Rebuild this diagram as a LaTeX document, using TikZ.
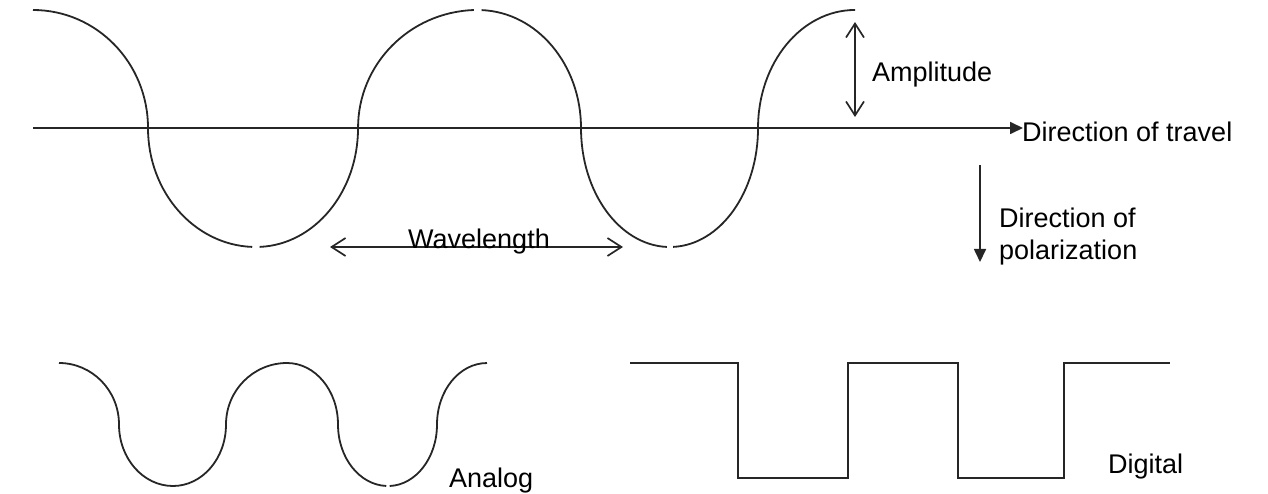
\documentclass[tikz,border=0pt]{standalone}
\usepackage{fontspec}
\setmainfont{Liberation Sans}
\usetikzlibrary{arrows.meta}
\begin{document}
\begin{tikzpicture}[x=1pt,y=-1pt,
  wave/.style={line width=1.8pt,color=black!85},
  lbl/.style={inner sep=0pt,font=\fontsize{27}{32}\selectfont},
  dbl/.style={line width=1.7pt,color=black!85,{Straight Barb[length=14pt,width=18pt]}-{Straight Barb[length=14pt,width=18pt]}},
  sol/.style={line width=1.7pt,color=black!85,-{Triangle[length=13pt,width=12pt]}}]
\useasboundingbox (0,0) rectangle (1268,494);
% big wave
\draw[wave] (33,10) arc[start angle=-90,end angle=0,x radius=115,y radius=118]
  arc[start angle=180,end angle=92,x radius=108,y radius=119];
\draw[wave] (259.6,246.9) arc[start angle=88,end angle=0,x radius=102,y radius=119]
  arc[start angle=180,end angle=268,x radius=120,y radius=118];
\draw[wave] (481.6,10.1) arc[start angle=272,end angle=360,x radius=103,y radius=118]
  arc[start angle=180,end angle=92,x radius=89,y radius=119];
\draw[wave] (673.1,246.9) arc[start angle=88,end angle=0,x radius=88,y radius=119]
  arc[start angle=180,end angle=270,x radius=97,y radius=118];
% axis
\coordinate (ax0) at (33,128);
\coordinate (ax1) at (1023,128);
\draw[sol] (ax0) -- (ax1);
\node[lbl,anchor=base west] (travel) at (1022,142) {Direction of travel};
% amplitude
\coordinate (am0) at (855,22);
\coordinate (am1) at (855,117);
\draw[dbl] (am0) -- (am1);
\node[lbl,anchor=base west] (ampl) at (872,82) {Amplitude};
% wavelength
\coordinate (wl0) at (330,247);
\coordinate (wl1) at (623,247);
\draw[dbl] (wl0) -- (wl1);
\node[lbl,anchor=base] (wavel) at (479,248) {Wavelength};
% polarization
\coordinate (po0) at (980,165);
\coordinate (po1) at (980,262);
\draw[sol] (po0) -- (po1);
\node[lbl,anchor=base west] (pol1) at (999,228) {Direction of};
\node[lbl,anchor=base west] (pol2) at (999,260) {polarization};
% analog
\draw[wave] (59,363) arc[start angle=-90,end angle=0,x radius=60,y radius=61.5]
  arc[start angle=180,end angle=90,x radius=54,y radius=61.5]
  arc[start angle=90,end angle=0,x radius=53,y radius=61.5]
  arc[start angle=180,end angle=270,x radius=61,y radius=61.5]
  arc[start angle=270,end angle=360,x radius=51,y radius=61.5]
  arc[start angle=180,end angle=92,x radius=50,y radius=61.5];
\draw[wave] (389.7,486) arc[start angle=88,end angle=0,x radius=49,y radius=61.5]
  arc[start angle=180,end angle=270,x radius=50,y radius=61.5];
\node[lbl,anchor=base west] (analog) at (449,487) {Analog};
% digital
\draw[wave] (630,363) -- (738,363) -- (738,478) -- (848,478) -- (848,363) -- (958,363)
  -- (958,478) -- (1064,478) -- (1064,363) -- (1170,363);
\node[lbl,anchor=base west] (digital) at (1108,473) {Digital};
\end{tikzpicture}
\end{document}
